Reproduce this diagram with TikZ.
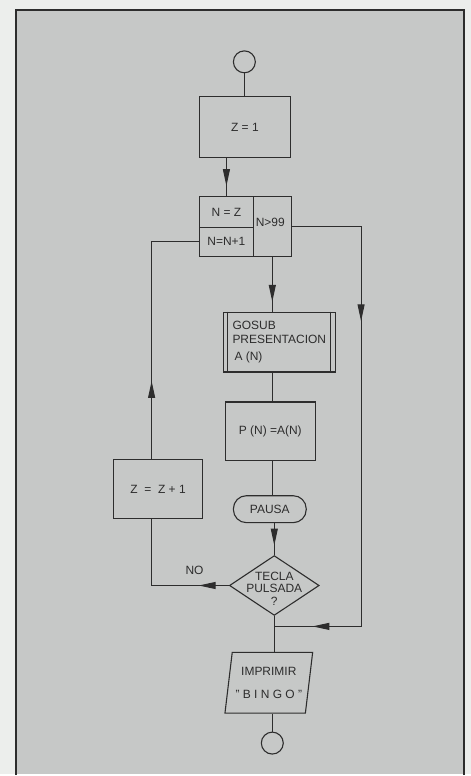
\documentclass[tikz,border=0pt]{standalone}
\usepackage{fontspec}
\setmainfont{Liberation Sans}
\usetikzlibrary{calc,positioning,shapes.geometric,arrows.meta}
\definecolor{paper}{RGB}{236,238,236}
\definecolor{panel}{RGB}{198,200,199}
\definecolor{ink}{RGB}{45,45,45}
\begin{document}
\begin{tikzpicture}[x=1pt, y=-1pt, >={Triangle[length=17pt,width=7pt]},
    font=\fontsize{12}{13.5}\selectfont, line width=1.1pt, draw=ink, text=ink]
		\tikzset{
			box/.style={draw=ink, rectangle, minimum width=#1, minimum height=60pt, inner sep=1pt},
			box/.default=90pt,
			cell/.style={draw=ink, rectangle, inner sep=0pt},
			term/.style={draw=ink, circle, minimum size=22pt, inner sep=0pt},
			pause/.style={draw=ink, rectangle, rounded corners=13pt, minimum width=73pt, minimum height=27pt},
			ask/.style={draw=ink, diamond, aspect=1.5, minimum width=90pt, minimum height=60pt, inner sep=0pt},
			io/.style={draw=ink, trapezium, trapezium left angle=79, trapezium right angle=101,
				trapezium stretches body, minimum width=87pt, minimum height=61pt, align=center}
		}
		% panel
		\fill[paper] (0,0) rectangle (472,776);
		\fill[panel] (16,10) rectangle (465,776);
		\draw[line width=2pt] (16,777) -- (16,10) -- (465,10) -- (465,777);
		% main column
		\node[term] (start) at (245,62) {};
		\node[box=91pt, minimum height=61pt] (zset) at (245.5,127.5) {Z = 1};
		\node[cell, minimum width=54pt, minimum height=31pt] (nset) at (227,212.5) {N = Z};
		\node[cell, minimum width=54pt, minimum height=29pt] (ninc) at (227,242.5) {N=N+1};
		\node[cell, minimum width=38pt, minimum height=60pt] (ntest) at (273,227) {};
		\node (ntxt) at (271,223) {N>99};
		\node[box=112pt, align=left] (gosub) at (280,343) {GOSUB\\PRESENTACION\\[4pt]\,A (N)};
		\draw ([xshift=5pt]gosub.north west) -- ([xshift=5pt]gosub.south west);
		\draw ([xshift=-5pt]gosub.north east) -- ([xshift=-5pt]gosub.south east);
		\node[box, minimum height=59pt] (pset) at (271,432.5) {P (N) =A(N)};
		\node[pause] (pausa) at (270.5,510.5) {PAUSA};
		\node[ask] (query) at (275,587) {};
		\node[align=center, font=\fontsize{12}{12.5}\selectfont] (qtxt) at (275,590) {TECLA\\PULSADA\\?};
		\node[io] (bingo) at (269.5,684.5) {IMPRIMIR\\[9pt]" B I N G O "};
		\node[term] (stop) at (273,745) {};
		% left loop
		\node[box=89pt, minimum height=59pt] (zinc) at (158.5,490.5) {Z \ = \ Z + 1};
		\node (no) at (195,572) {NO};
		\coordinate (nobend) at (152,587);
		% right loop
		\coordinate (yesbend) at (362,628);
		% connectors
		\draw (start.south) -- (start.south |- zset.north);
		\draw (nset.north |- zset.south) -- (nset.north);
		\draw[->] (nset.north |- zset.south) -- ($(nset.north |- zset.south)!0.74!(nset.north)$);
		\draw (ntest.south) -- (ntest.south |- gosub.north);
		\draw[->] (ntest.south) -- ($(ntest.south)!0.82!(ntest.south |- gosub.north)$);
		\draw (gosub.south -| ntest.south) -- (pset.north -| ntest.south);
		\draw (pset.south -| ntest.south) -- (pausa.north -| ntest.south);
		\draw (pausa.south -| query.north) -- (query.north);
		\draw[->] (pausa.south -| query.north) -- ($(pausa.south -| query.north)!0.7!(query.north)$);
		\draw (query.south) -- (query.south |- bingo.north);
		\draw (bingo.south -| stop.north) -- (stop.north);
		% NO branch back to N=N+1
		\draw (query.west) -- (nobend) -- (nobend |- zinc.south);
		\draw[->] (query.west) -- ($(query.west)!0.39!(nobend)$);
		\draw (nobend |- zinc.north) -- (ninc.west -| nobend) -- (ninc.west);
		\draw[->] (nobend |- zinc.north) -- ($(nobend |- zinc.north)!0.36!(ninc.west -| nobend)$);
		% N>99 branch to IMPRIMIR
		\draw (ntest.east) -- (ntest.east -| yesbend) -- (yesbend) -- (yesbend -| query.south);
		\draw[->] (ntest.east -| yesbend) -- ($(ntest.east -| yesbend)!0.237!(yesbend)$);
		\draw[->] (yesbend) -- ($(yesbend)!0.56!(yesbend -| query.south)$);
		\useasboundingbox (0,0) rectangle (472,776);
	\end{tikzpicture}
\end{document}
